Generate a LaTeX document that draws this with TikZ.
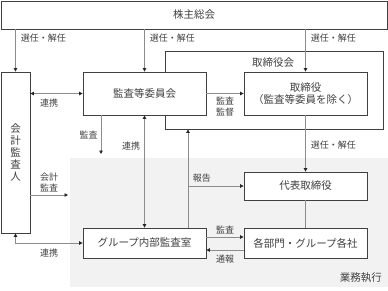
\documentclass[tikz,border=0pt]{standalone}
\usepackage{fontspec}
\setmainfont{Noto Sans CJK JP}
\usetikzlibrary{arrows.meta, positioning}
\definecolor{lineGray}{RGB}{140,140,140}
\definecolor{textGray}{RGB}{64,64,64}
\definecolor{execGray}{RGB}{242,242,242}

\begin{document}
\begin{tikzpicture}[
            x=1pt, y=-1pt,
            every node/.style={font=\fontsize{10.5}{12}\selectfont, text=textGray, align=center},
            box/.style={rectangle, draw=textGray, line width=0.8pt, fill=white, minimum width=123pt, minimum height=29pt, inner sep=0pt},
            lbl/.style={font=\fontsize{9}{11}\selectfont, inner sep=2pt},
            arrow/.style={-{Triangle[length=3.5pt, width=3.5pt, color=black!85]}, line width=0.8pt, draw=lineGray},
            arrowboth/.style={{Triangle[length=3.5pt, width=3.5pt, color=black!85]}-{Triangle[length=3.5pt, width=3.5pt, color=black!85]}, line width=0.8pt, draw=lineGray},
            link/.style={line width=0.8pt, draw=lineGray}
        ]
            \useasboundingbox (0,0) rectangle (388,290);
            % business execution area
            \fill[execGray] (70,158) rectangle (388,287);
            \node[anchor=east, inner sep=0pt] (exec) at (382,278) {業務執行};

            \node[box, minimum width=386pt, minimum height=28pt] (kabu) at (194,15) {株主総会};
            \node[box, minimum width=29pt, minimum height=161pt] (kaikei) at (15.5,152.5) {会\\計\\監\\査\\人};
            \node[box, minimum width=218pt, minimum height=78pt] (torikai) at (274,90) {};
            \node (torikaiLbl) at (273,63) {取締役会};
            \node[box, minimum height=43pt] (kansa) at (144.5,93.5) {監査等委員会};
            \node[box, minimum height=43pt] (tori) at (305.5,93.5) {取締役\\（監査等委員を除く）};
            \node[box, minimum height=28pt] (daihyo) at (305.5,186) {代表取締役};
            \node[box, minimum height=30pt] (kakubu) at (305.5,243) {各部門・グループ各社};
            \node[box, minimum height=30pt] (naibu) at (144.5,243) {グループ内部監査室};

            \coordinate (kansaEnd) at (101,154);
            \coordinate (kaikeiEnd) at (68,195);
            \coordinate (report) at (188,0);

            % election / dismissal
            \draw[arrow] (kabu.south -| kaikei) -- node[lbl, pos=0.2, right=3pt] {選任・解任} (kaikei.north);
            \draw[arrow] (kabu.south -| kansa) -- node[lbl, pos=0.2, right=3pt] {選任・解任} (kansa.north);
            \draw[arrow] (kabu.south -| tori) -- node[lbl, pos=0.2, right=3pt] {選任・解任} (tori.north);
            \draw[arrow] (tori.south) -- node[lbl, pos=0.53, right=3pt] {選任・解任} (daihyo.north);
            \draw[link] (daihyo.south) -- (kakubu.north);

            % audit committee
            \draw[arrow] (kansa.east) -- node[lbl, below=1pt, align=center] {監査\\監督} (tori.west);
            \draw[arrowboth] (kaikei.east |- kansa.west) -- node[lbl, pos=0.36, below=3pt] {連携} (kansa.west);
            \draw[arrow] (kansa.south -| kansaEnd) -- node[lbl, left=1pt] {監査} (kansaEnd);
            \draw[arrowboth] (kansa.south) -- node[lbl, pos=0.27, left=2pt] {連携} (naibu.north);

            % internal audit
            \draw[arrow] (naibu.north -| report) -- (torikai.south -| report);
            \draw[arrow] (daihyo.west -| report) -- node[lbl, pos=0.25, above=1pt] {報告} (daihyo.west);
            \draw[arrow] (kaikei.east |- kaikeiEnd) -- node[lbl, above=1pt, align=center] {会計\\監査} (kaikeiEnd);
            \draw[arrowboth] (kaikei.south) |- node[lbl, pos=0.75, below=4pt] {連携} (naibu.west);
            \draw[arrow] ([yshift=6pt]naibu.east) -- node[lbl, above=1pt] {監査} ([yshift=6pt]naibu.east -| kakubu.west);
            \draw[arrow] ([yshift=-7pt]kakubu.west) -- node[lbl, below=3pt] {通報} ([yshift=-7pt]kakubu.west -| naibu.east);
        \end{tikzpicture}
\end{document}
